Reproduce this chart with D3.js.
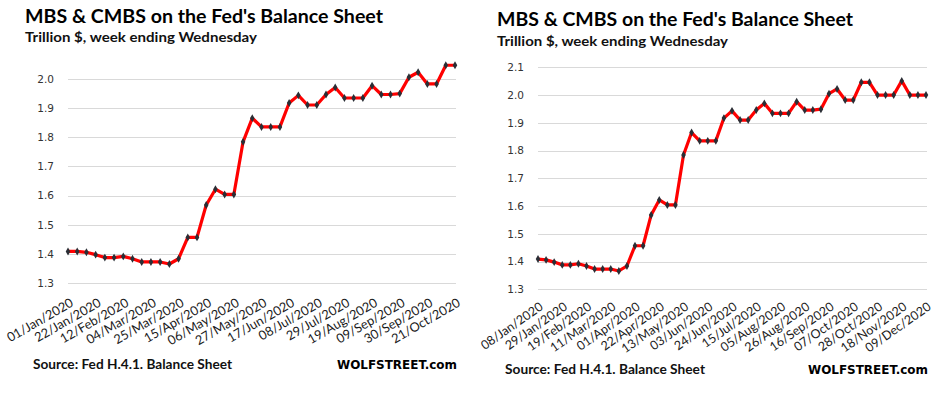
<!DOCTYPE html>
<html><head><meta charset="utf-8">
<script src="https://cdn.jsdelivr.net/npm/d3@7/dist/d3.min.js"></script>
<style>
body{margin:0;background:#fff;}
svg{display:block;}
</style></head>
<body><svg id="c" width="933" height="394"></svg>
<script>
// ---------- DATA ----------
const leftStart = "2020-01-01";
const leftValues = [1.409,1.409,1.406,1.398,1.388,1.388,1.392,1.384,1.373,1.373,1.373,1.366,1.384,1.457,1.457,1.568,1.622,1.604,1.604,1.784,1.865,1.835,1.835,1.835,1.917,1.943,1.910,1.910,1.946,1.970,1.934,1.934,1.934,1.976,1.946,1.946,1.949,2.005,2.022,1.982,1.982,2.046,2.046];
const leftTickLabels = ["01/Jan/2020","22/Jan/2020","12/Feb/2020","04/Mar/2020","25/Mar/2020","15/Apr/2020","06/May/2020","27/May/2020","17/Jun/2020","08/Jul/2020","29/Jul/2020","19/Aug/2020","09/Sep/2020","30/Sep/2020","21/Oct/2020"];
const leftYTicks = [1.3,1.4,1.5,1.6,1.7,1.8,1.9,2.0];

const rightStart = "2020-01-08";
const rightValues = [1.409,1.406,1.398,1.388,1.388,1.392,1.384,1.373,1.373,1.373,1.366,1.384,1.457,1.457,1.568,1.622,1.604,1.604,1.784,1.865,1.835,1.835,1.835,1.917,1.943,1.910,1.910,1.946,1.970,1.934,1.934,1.934,1.976,1.946,1.946,1.949,2.005,2.022,1.982,1.982,2.046,2.046,2.000,2.000,2.000,2.051,2.000,2.000,2.000];
const rightTickLabels = ["08/Jan/2020","29/Jan/2020","19/Feb/2020","11/Mar/2020","01/Apr/2020","22/Apr/2020","13/May/2020","03/Jun/2020","24/Jun/2020","15/Jul/2020","05/Aug/2020","26/Aug/2020","16/Sep/2020","07/Oct/2020","28/Oct/2020","18/Nov/2020","09/Dec/2020"];
const rightYTicks = [1.3,1.4,1.5,1.6,1.7,1.8,1.9,2.0,2.1];

const titleText = "MBS & CMBS on the Fed's Balance Sheet";
const subtitleText = "Trillion $, week ending Wednesday";
const sourceText = "Source: Fed H.4.1. Balance Sheet";
const brandText = "WOLFSTREET.com";

// ---------- DRAW ----------
const svg = d3.select("#c");
const fmtDate = d3.utcFormat("%d/%b/%Y");

function weekly(start, n){
  const s = new Date(start+"T00:00:00Z");
  return d3.range(n).map(i => fmtDate(d3.utcDay.offset(s, 7*i)));
}

function chart(cfg){
  const g = svg.append("g");
  const cats = weekly(cfg.start, cfg.values.length);
  const x = d3.scalePoint().domain(cats).range([cfg.x0, cfg.x1]);
  const y = d3.scaleLinear().domain(cfg.yDomain).range(cfg.yRange);

  // titles
  g.append("text").attr("x", cfg.tx).attr("y", cfg.ty)
    .attr("font-family","Lato, 'Open Sans', sans-serif").attr("font-weight","bold")
    .attr("font-size",19).attr("fill","#000")
    .attr("textLength", cfg.tw).attr("lengthAdjust","spacingAndGlyphs")
    .text(titleText);
  g.append("text").attr("x", cfg.tx).attr("y", cfg.sy)
    .attr("font-family","Lato, 'Open Sans', sans-serif").attr("font-weight","bold")
    .attr("font-size",14).attr("fill","#111")
    .attr("textLength", cfg.sw).attr("lengthAdjust","spacingAndGlyphs")
    .text(subtitleText);

  // gridlines
  g.append("g").selectAll("line").data(cfg.yTicks).join("line")
    .attr("x1", cfg.x0).attr("x2", cfg.x1 + 1)
    .attr("y1", d => Math.round(y(d)) + 0.5).attr("y2", d => Math.round(y(d)) + 0.5)
    .attr("stroke","#d9d9d9").attr("stroke-width",1);

  // y axis labels
  const yAxis = d3.axisLeft(y).tickValues(cfg.yTicks).tickFormat(d3.format(".1f")).tickSize(0).tickPadding(0);
  const ya = g.append("g").attr("transform",`translate(${cfg.yLabelX},0)`).call(yAxis);
  ya.select(".domain").remove();
  ya.selectAll("text").attr("font-family","'DejaVu Sans', Verdana, sans-serif")
    .attr("font-size",10.5).attr("fill","#333");

  // x axis labels
  const tickCats = cats.filter((c,i) => i % 3 === 0);
  const xAxis = d3.axisBottom(x).tickValues(tickCats)
    .tickFormat((d,i) => cfg.tickLabels[i]).tickSize(0).tickPadding(0);
  const xa = g.append("g").attr("transform",`translate(0,${cfg.xLabelY})`).call(xAxis);
  xa.select(".domain").remove();
  xa.selectAll("text")
    .attr("font-family","Lato, 'Open Sans', sans-serif").attr("font-size",cfg.xFont).attr("fill","#1a1a1a")
    .attr("text-anchor","end").attr("dy","0.75em").attr("y",0)
    .attr("transform",`translate(${cfg.xLabelDx},0) rotate(${-cfg.angle})`);

  // line
  const line = d3.line().x((d,i) => x(cats[i])).y(d => y(d));
  g.append("path").datum(cfg.values).attr("d", line)
    .attr("fill","none").attr("stroke","#ff0000").attr("stroke-width",3.2)
    .attr("stroke-linejoin","round");

  // markers
  const sym = d3.symbol().type(d3.symbolDiamond).size(18);
  g.append("g").selectAll("path").data(cfg.values).join("path")
    .attr("d", sym)
    .attr("transform",(d,i) => `translate(${x(cats[i])},${y(d)})`)
    .attr("fill","#2a2e35");

  // footer
  g.append("text").attr("x", cfg.srcX).attr("y", cfg.footY)
    .attr("font-family","Lato, 'Open Sans', sans-serif").attr("font-weight","bold")
    .attr("font-size",14).attr("fill","#111")
    .attr("textLength", cfg.srcW).attr("lengthAdjust","spacingAndGlyphs")
    .text(sourceText);
  g.append("text").attr("x", cfg.brandX).attr("y", cfg.footY)
    .attr("font-family","'DejaVu Sans', Verdana, sans-serif").attr("font-weight","bold")
    .attr("font-size",11.8).attr("fill","#000")
    .attr("textLength", cfg.brandW).attr("lengthAdjust","spacingAndGlyphs")
    .text(brandText);
}

chart({start:leftStart, values:leftValues, tickLabels:leftTickLabels, yTicks:leftYTicks,
  x0:68, x1:455, yDomain:[1.3,2.0], yRange:[283.3,78.7], yLabelX:54,
  tx:25, ty:22.5, tw:358, sy:42, sw:232,
  xLabelY:297, xLabelDx:1, angle:30, xFont:12.8,
  srcX:33, srcW:199, brandX:337, brandW:120, footY:369});

chart({start:rightStart, values:rightValues, tickLabels:rightTickLabels, yTicks:rightYTicks,
  x0:538, x1:926, yDomain:[1.3,2.1], yRange:[289.3,67.3], yLabelX:524,
  tx:497, ty:26, tw:356, sy:46, sw:231,
  xLabelY:301, xLabelDx:0, angle:35, xFont:12.5,
  srcX:505, srcW:200, brandX:808, brandW:120, footY:374});
</script>
</body></html>
